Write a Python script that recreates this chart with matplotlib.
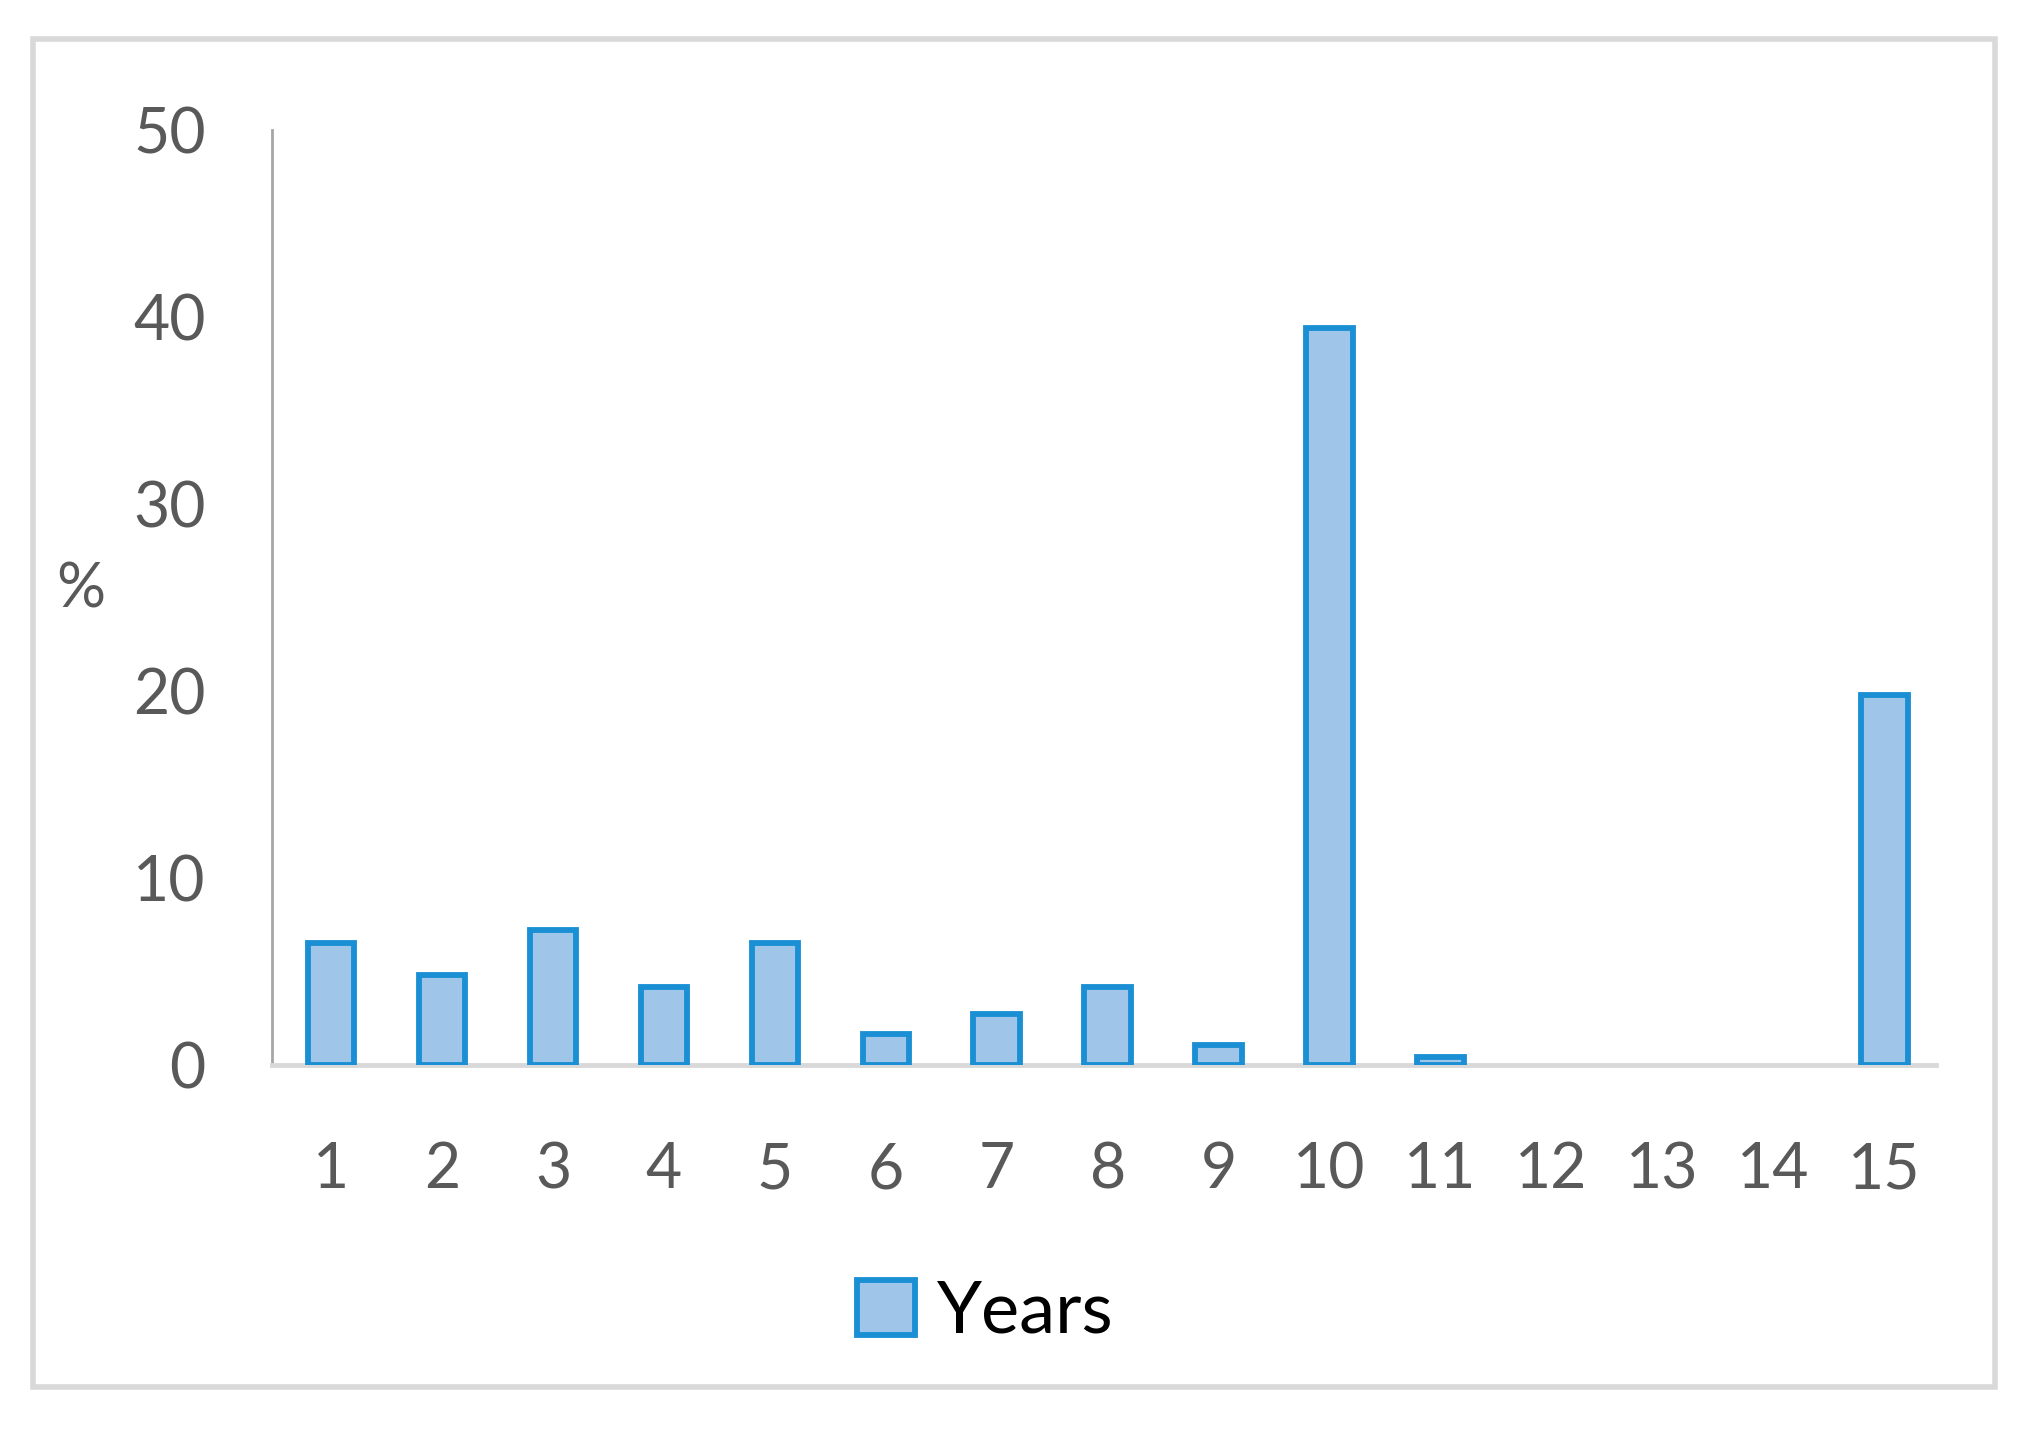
import matplotlib.pyplot as plt
from matplotlib.patches import Rectangle

# values (%)
years = list(range(1, 16))
percent = [6.5, 4.8, 7.2, 4.15, 6.5, 1.65, 2.7, 4.15, 1.05, 39.4, 0.4, 0, 0, 0, 19.8]
yticks = [0, 10, 20, 30, 40, 50]

plt.rcParams['font.family'] = ['Lato', 'DejaVu Sans']

fig = plt.figure(figsize=(20.32, 14.31), dpi=100)
ax = fig.add_axes([0.134, 0.256, 0.819, 0.653])

bars = ax.bar(years, percent, width=0.42, color='#9fc5e8', edgecolor='#1a8fd4',
              linewidth=4.2, label='Years', zorder=3)
# zero-height bars leave no mark in the original
for b, v in zip(bars, percent):
    if v == 0:
        b.set_visible(False)

ax.set_xlim(0.47, 15.47)
ax.set_ylim(0, 50)
ax.set_xticks(years)
ax.set_yticks(yticks)
ax.tick_params(axis='both', length=0, labelsize=45, labelcolor='#595959')
ax.tick_params(axis='y', pad=48)
ax.tick_params(axis='x', pad=55)

for s in ['top', 'right']:
    ax.spines[s].set_visible(False)
ax.spines['left'].set_color('#a6a6a6')
ax.spines['left'].set_linewidth(2)
ax.spines['bottom'].set_color('#d9d9d9')
ax.spines['bottom'].set_linewidth(3.5)

fig.text(0.040, 0.588, '%', fontsize=44, color='#595959', ha='center', va='center')

fig.legend(handles=[bars], labels=['Years'], loc='center', bbox_to_anchor=(0.485, 0.083),
           frameon=False, fontsize=52, handlelength=0.8, handleheight=0.8, handletextpad=0.3)

# outer chart border
fig.patches.append(Rectangle((0.016, 0.031), 0.966, 0.942, transform=fig.transFigure,
                             fill=False, edgecolor='#d9d9d9', linewidth=4))

fig.savefig('out.png', dpi=100)
